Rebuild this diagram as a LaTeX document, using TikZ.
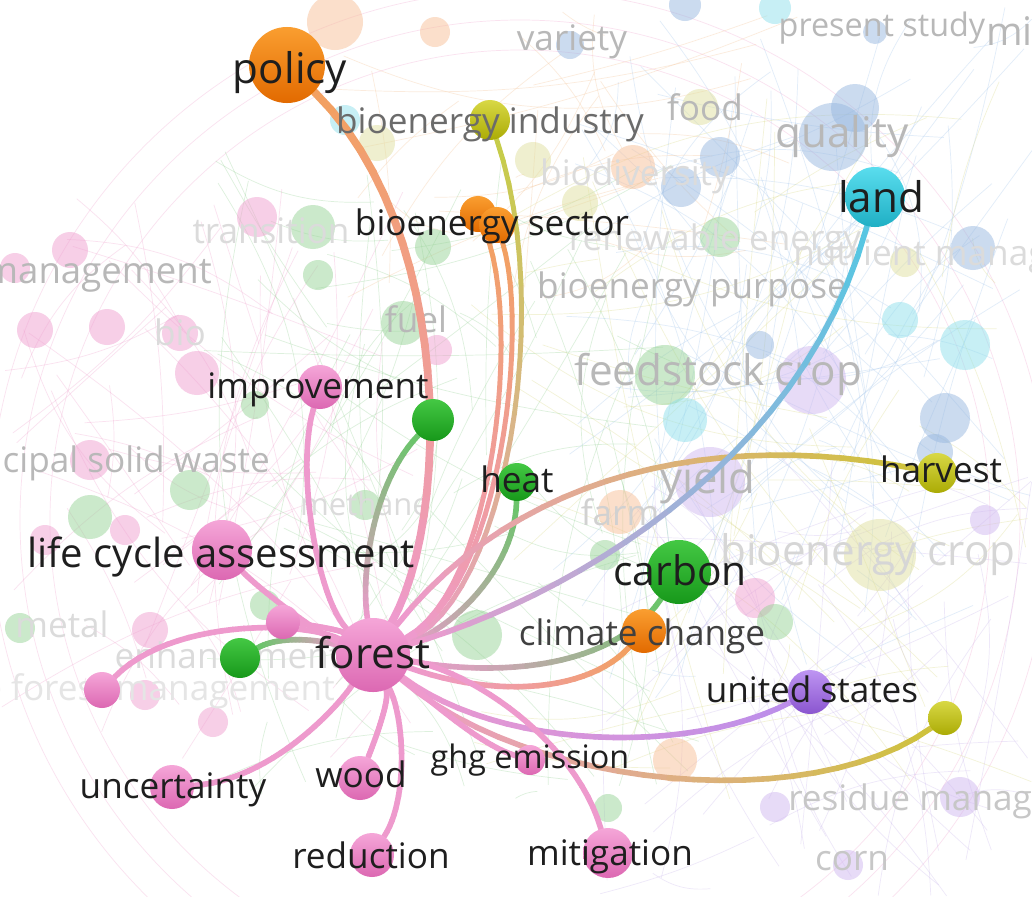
\documentclass[tikz,border=0pt]{standalone}
\usepackage{fontspec}
\setmainfont{Open Sans}
\usetikzlibrary{calc}

\pgfdeclarelayer{bg}
\pgfdeclarelayer{edges}
\pgfsetlayers{bg,edges,main}

% node colours (top / bottom of the ball)
\definecolor{pinkT}{HTML}{F5A6D8}
\definecolor{pinkB}{HTML}{DC68B2}
\definecolor{orangeT}{HTML}{FA9E30}
\definecolor{orangeB}{HTML}{E26A00}
\definecolor{greenT}{HTML}{44C844}
\definecolor{greenB}{HTML}{17981A}
\definecolor{yellowT}{HTML}{D8D845}
\definecolor{yellowB}{HTML}{ABAB05}
\definecolor{cyanT}{HTML}{5ADDEE}
\definecolor{cyanB}{HTML}{1FAFC4}
\definecolor{purpleT}{HTML}{BE95F2}
\definecolor{purpleB}{HTML}{8A55CF}
% link colours
\definecolor{epink}{HTML}{EE9ACD}
\definecolor{eorange}{HTML}{F2A062}
\definecolor{egreen}{HTML}{6CC46C}
\definecolor{eyellow}{HTML}{CFC23E}
\definecolor{eygreen}{HTML}{C6CC4A}
\definecolor{ecyan}{HTML}{58C6E2}
\definecolor{epurple}{HTML}{BC8EEA}
% faded background colours
\definecolor{fpink}{HTML}{F0A0CC}
\definecolor{fgreen}{HTML}{90D090}
\definecolor{fblue}{HTML}{A0C4EC}
\definecolor{flav}{HTML}{C8B4EC}
\definecolor{fyellow}{HTML}{D8D880}
\definecolor{fpeach}{HTML}{F4C090}
\definecolor{cpink}{HTML}{F0A0D0}
\definecolor{cgreen}{HTML}{98D498}
\definecolor{cblue}{HTML}{98B8E0}
\definecolor{ccyan}{HTML}{90E0EC}
\definecolor{cpeach}{HTML}{F8C098}
\definecolor{cyellow}{HTML}{E0E0A0}
\definecolor{clav}{HTML}{D0B8F0}
\definecolor{ink}{HTML}{1E1E1E}

\tikzset{
  ball/.style={circle, inner sep=0pt, minimum size=#1*0.05cm},
  pinkball/.style={ball=#1, top color=pinkT, bottom color=pinkB},
  orangeball/.style={ball=#1, top color=orangeT, bottom color=orangeB},
  greenball/.style={ball=#1, top color=greenT, bottom color=greenB},
  yellowball/.style={ball=#1, top color=yellowT, bottom color=yellowB},
  cyanball/.style={ball=#1, top color=cyanT, bottom color=cyanB},
  purpleball/.style={ball=#1, top color=purpleT, bottom color=purpleB},
  lbl/.style={anchor=base, inner sep=0pt, text=ink, font=\fontsize{25}{25}\selectfont},
  biglbl/.style={lbl, font=\fontsize{30}{30}\selectfont},
  fade/.style={anchor=base, inner sep=0pt, text=black!28, font=\fontsize{25}{25}\selectfont},
  faded/.style={fade, text=black!14},
  faint/.style={line width=0.5pt, opacity=0.3},
}

% link whose colour runs from #6 (first node) to #7 (second node)
\newcommand{\linkedge}[7][4pt]{%
  \begin{pgfonlayer}{edges}
  \path (#2) .. controls #3 and #4 .. (#5)
    \foreach \k in {0,...,24}{coordinate[pos=\k/24] (q\k)};
  \foreach \k [evaluate=\k as \kk using int(\k+1), evaluate=\k as \mx using int(100-100*\k/23)] in {0,...,23}
    {\draw[line width=#1, line cap=round, #6!\mx!#7] (q\k) -- (q\kk);}
  \end{pgfonlayer}}

\begin{document}
\begin{tikzpicture}[x=0.025cm, y=-0.025cm]
\useasboundingbox (0,0) rectangle (1032,896);

\begin{pgfonlayer}{bg}
  \fill[white] (0,0) rectangle (1032,896);
  % faint rings and links of the whole map
  \foreach \rr in {470,500,530}
    \draw[faint, fpink] (520,520) circle[radius=\rr*0.025cm];
  \pgfmathsetseed{21}
  \foreach \col/\xl/\xr/\yl/\yh/\n in {fpink/0/420/180/760/50, fgreen/200/700/150/800/65,
      fblue/550/1032/0/700/80, flav/600/1032/450/896/45, fyellow/450/1032/80/800/40,
      fpeach/300/800/0/300/25}{
    \foreach \k in {1,...,\n}{
      \pgfmathsetmacro\xa{\xl+rnd*(\xr-\xl)}
      \pgfmathsetmacro\ya{\yl+rnd*(\yh-\yl)}
      \pgfmathsetmacro\xb{\xl+rnd*(\xr-\xl)}
      \pgfmathsetmacro\yb{\yl+rnd*(\yh-\yl)}
      \pgfmathsetmacro\bd{rnd*40-20}
      \draw[faint, \col] (\xa,\ya) to[bend left=\bd] (\xb,\yb);
    }
  }
  % faded items
  \foreach \x/\y/\r/\c in {335/22/28/cpeach, 435/32/15/cpeach, 570/45/14/cblue, 685/5/16/cblue,
      775/8/16/ccyan, 875/32/12/cblue, 345/120/15/ccyan, 377/143/18/cyellow, 533/160/18/cyellow,
      633/167/22/cpeach, 720/157/20/cblue, 681/187/20/cblue, 580/203/18/cyellow, 720/237/20/cgreen,
      700/107/18/cyellow, 833/137/34/cblue, 855/108/24/cblue, 973/248/22/cblue, 905/262/15/cyellow,
      257/217/20/cpink, 313/227/22/cgreen, 318/275/15/cgreen, 433/247/18/cgreen, 70/250/18/cpink,
      15/268/15/cpink, 107/327/18/cpink, 35/330/18/cpink, 180/333/18/cpink, 197/373/22/cpink,
      255/405/14/cgreen, 403/323/22/cgreen, 437/350/15/cpink, 90/460/20/cpink, 190/490/20/cgreen,
      90/517/22/cgreen, 125/530/15/cpink, 45/540/15/cpink, 365/505/15/cgreen, 665/375/30/cgreen,
      685/420/22/ccyan, 760/345/14/cblue, 812/380/34/clav, 900/320/18/ccyan, 965/345/25/ccyan,
      945/418/25/cblue, 935/452/18/cblue, 710/482/35/clav, 620/512/22/cpeach, 605/555/15/cgreen,
      880/555/36/cyellow, 985/520/15/clav, 755/598/20/cpink, 775/622/18/cgreen, 477/635/25/cgreen,
      20/628/15/cgreen, 150/630/18/cpink, 265/605/15/cgreen, 145/695/15/cpink, 213/722/15/cpink,
      675/760/22/cpeach, 608/808/14/cgreen, 775/807/15/clav, 960/797/20/clav, 848/865/15/clav}
    \fill[\c, opacity=0.5] (\x,\y) circle[radius=\r*0.025cm];
  \node[fade] (tVariety) at (572,50) {variety};
  \node[fade, font=\fontsize{23}{23}\selectfont] (tStudy) at (882,36) {present study};
  \node[fade, anchor=base west, font=\fontsize{28}{28}\selectfont] (tMisc) at (986,45) {miscanthus};
  \node[fade] (tFood) at (705,120) {food};
  \node[fade, font=\fontsize{30}{30}\selectfont] (tQuality) at (842,147) {quality};
  \node[faded] (tBiodiv) at (635,185) {biodiversity};
  \node[faded] (tRenew) at (715,250) {renewable energy};
  \node[faded, anchor=base west] (tNutrient) at (793,265) {nutrient management};
  \node[fade, anchor=base east, font=\fontsize{26}{26}\selectfont] (tManage) at (212,283) {management};
  \node[faded] (tTransition) at (271,243) {transition};
  \node[fade] (tPurpose) at (692,298) {bioenergy purpose};
  \node[fade] (tFuel) at (416,332) {fuel};
  \node[faded] (tBio) at (180,345) {bio};
  \node[fade, anchor=base east] (tWaste) at (270,472) {municipal solid waste};
  \node[faded, font=\fontsize{22}{22}\selectfont] (tMethane) at (365,515) {methane};
  \node[fade, font=\fontsize{30}{30}\selectfont] (tFeed) at (670,385) {feedstock};
  \node[fade, font=\fontsize{30}{30}\selectfont] (tCrop) at (818,385) {crop};
  \node[fade, font=\fontsize{31}{31}\selectfont] (tYield) at (708,493) {yield};
  \node[fade, text=black!18] (tFarm) at (620,525) {farm};
  \node[fade, text=black!16, anchor=base west, font=\fontsize{30}{30}\selectfont] (tBiocrop) at (720,565) {bioenergy crop};
  \node[faded] (tMetal) at (62,637) {metal};
  \node[faded] (tEnhance) at (228,668) {enhancement};
  \node[faded, text=black!10, anchor=base east] (tSfm) at (335,700) {sustainable forest management};
  \node[fade, anchor=base west, text=black!22] (tResidue) at (788,810) {residue management};
  \node[fade, text=black!22] (tCorn) at (852,870) {corn};
\end{pgfonlayer}

% keywords
\node[pinkball=37] (forest) at (373,655) {};
\node[orangeball=38] (policy) at (287,65) {};
\node[yellowball=20] (bioind) at (490,120) {};
\node[orangeball=18] (biosecA) at (478,214) {};
\node[orangeball=18] (biosecB) at (497,225) {};
\node[cyanball=30] (land) at (875,197) {};
\node[pinkball=22] (improve) at (320,387) {};
\node[greenball=21] (grnA) at (433,420) {};
\node[greenball=19] (heat) at (517,482) {};
\node[yellowball=20] (harvest) at (937,473) {};
\node[pinkball=30] (lca) at (222,550) {};
\node[greenball=32] (carbon) at (679,572) {};
\node[orangeball=22] (climate) at (644,631) {};
\node[pinkball=17] (pnkA) at (283,622) {};
\node[greenball=20] (grnB) at (240,658) {};
\node[pinkball=18] (pnkB) at (102,690) {};
\node[purpleball=22] (usa) at (810,692) {};
\node[yellowball=17] (ylwA) at (945,718) {};
\node[pinkball=15] (ghg) at (530,760) {};
\node[pinkball=22] (uncert) at (172,787) {};
\node[pinkball=22] (wood) at (360,778) {};
\node[pinkball=22] (reduct) at (372,855) {};
\node[pinkball=25] (mitig) at (608,853) {};

% links of forest
\linkedge[5.5pt]{forest}{(450,520)}{(455,230)}{policy}{epink}{eorange}
\linkedge[3.5pt]{forest}{(505,600)}{(555,310)}{bioind}{epink}{eygreen}
\linkedge[3.5pt]{forest}{(495,590)}{(522,320)}{biosecA}{epink}{eorange}
\linkedge[3.5pt]{forest}{(500,590)}{(530,330)}{biosecB}{epink}{eorange}
\linkedge{forest}{(318,600)}{(295,470)}{improve}{epink}{epink}
\linkedge{forest}{(360,570)}{(375,480)}{grnA}{epink}{egreen}
\linkedge{forest}{(450,630)}{(515,570)}{heat}{epink}{egreen}
\linkedge{forest}{(520,470)}{(720,430)}{harvest}{epink}{eyellow}
\linkedge{forest}{(560,600)}{(800,470)}{land}{epink}{ecyan}
\linkedge{forest}{(520,680)}{(620,660)}{carbon}{epink}{egreen}
\linkedge{forest}{(500,700)}{(590,690)}{climate}{epink}{eorange}
\linkedge{forest}{(500,750)}{(690,755)}{usa}{epink}{epurple}
\linkedge{forest}{(530,790)}{(810,815)}{ylwA}{epink}{eyellow}
\linkedge{forest}{(430,700)}{(480,745)}{ghg}{epink}{epink}
\linkedge{forest}{(470,670)}{(575,740)}{mitig}{epink}{epink}
\linkedge{forest}{(390,700)}{(375,740)}{wood}{epink}{epink}
\linkedge{forest}{(405,720)}{(408,800)}{reduct}{epink}{epink}
\linkedge{forest}{(335,710)}{(270,780)}{uncert}{epink}{epink}
\linkedge{forest}{(300,620)}{(170,620)}{pnkB}{epink}{epink}
\linkedge{forest}{(340,630)}{(310,625)}{pnkA}{epink}{epink}
\linkedge{forest}{(320,640)}{(280,635)}{grnB}{epink}{egreen}
\linkedge{forest}{(320,635)}{(260,590)}{lca}{epink}{epink}

% labels
\node[biglbl] (lForest) at (373,668) {forest};
\node[biglbl] (lPolicy) at (290,83) {policy};
\node[lbl, text=black!58] (lBioind) at (490,133) {bioenergy industry};
\node[lbl] (lBiosec) at (492,235) {bioenergy sector};
\node[biglbl] (lLand) at (881,212) {land};
\node[lbl] (lImprove) at (318,398) {improvement};
\node[lbl] (lHeat) at (517,492) {heat};
\node[lbl] (lHarvest) at (941,482) {harvest};
\node[lbl, font=\fontsize{28.5}{28.5}\selectfont] (lLca) at (221,567) {life cycle assessment};
\node[lbl, font=\fontsize{29}{29}\selectfont] (lCarbon) at (680,585) {carbon};
\node[lbl, text=black!75] (lClimate) at (642,645) {climate change};
\node[lbl] (lUsa) at (812,702) {united states};
\node[lbl, font=\fontsize{23}{23}\selectfont] (lGhg) at (530,768) {ghg emission};
\node[lbl] (lUncert) at (173,798) {uncertainty};
\node[lbl] (lWood) at (361,787) {wood};
\node[lbl] (lReduct) at (371,868) {reduction};
\node[lbl] (lMitig) at (610,865) {mitigation};
\end{tikzpicture}
\end{document}
